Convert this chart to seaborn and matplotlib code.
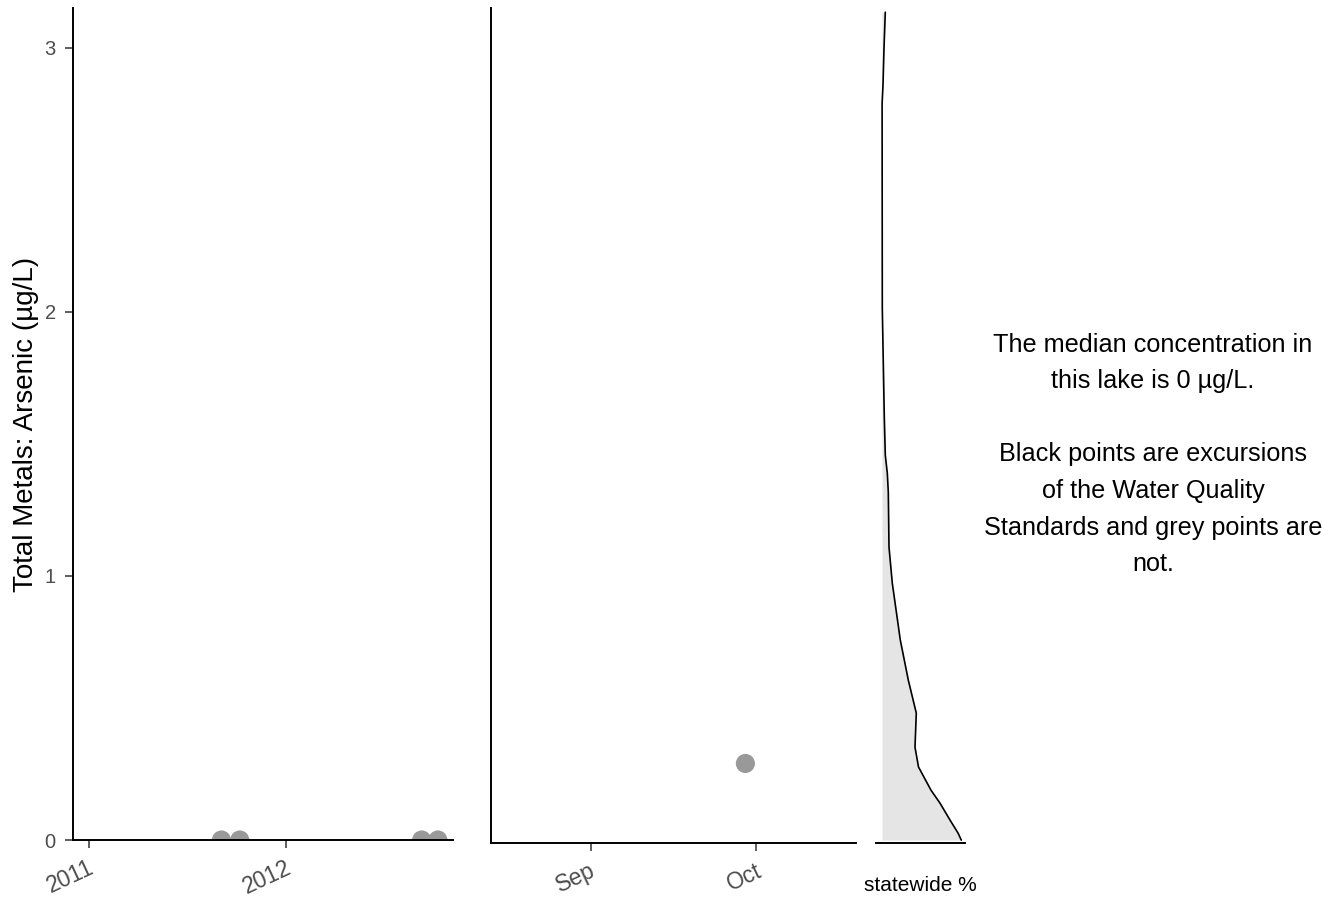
import numpy as np
import pandas as pd
import seaborn as sns
import matplotlib.pyplot as plt
import matplotlib.dates as mdates
from matplotlib.transforms import ScaledTranslation

# sample dates and arsenic values (ug/L)
sample_dates = ["2011-09-03", "2011-10-07", "2012-09-08", "2012-10-08"]
sample_vals = [0, 0, 0, 0]

# seasonal panel
season_dates = ["2012-09-29"]
season_vals = [0.30]

# statewide distribution (concentration vs relative share)
state_conc = [3.136, 3.0, 2.86, 2.79, 2.015, 1.807, 1.602, 1.458, 1.39, 1.318,
              1.11, 0.973, 0.758, 0.606, 0.481, 0.352, 0.277, 0.189, 0.14,
              0.076, 0.027, 0.0]
state_pct = [3.3, 2.0, 1.0, 0.1, 0.3, 1.3, 2.3, 3.3, 5.3, 6.3,
             7.0, 10.3, 18.3, 26.3, 34.3, 33.0, 36.5, 49.0, 58.0,
             68.0, 76.0, 79.3]

median_val = 0
ylab = "Total Metals: Arsenic (\u00b5g/L)"
note = ("The median concentration in\nthis lake is %d \u00b5g/L.\n\n"
        "Black points are excursions\nof the Water Quality\n"
        "Standards and grey points are\nnot." % median_val)

sns.set_theme(style="ticks")
plt.rcParams['font.family'] = ['Liberation Sans', 'DejaVu Sans']

df = pd.DataFrame({"date": pd.to_datetime(sample_dates), "val": sample_vals})
ds = pd.DataFrame({"date": pd.to_datetime(season_dates), "val": season_vals})
dd = pd.DataFrame({"conc": state_conc, "pct": state_pct})

fig = plt.figure(figsize=(13.34, 8.99), dpi=100)
ax1 = fig.add_axes([73/1334, 59/899, 380/1334, 832/899])
ax2 = fig.add_axes([491/1334, 56/899, 365/1334, 835/899])
ax3 = fig.add_axes([876/1334, 56/899, 89/1334, 835/899])

grey = "#999999"
tick_col = "#4D4D4D"

# left panel: full record
sns.scatterplot(data=df, x="date", y="val", ax=ax1, color=grey, s=190,
                edgecolor="none")
ax1.set_xlim(pd.Timestamp("2010-12-02"), pd.Timestamp("2012-11-05"))
ax1.set_ylim(0, 3.15)
ax1.set_yticks([0, 1, 2, 3])
ax1.xaxis.set_major_locator(mdates.YearLocator())
ax1.xaxis.set_major_formatter(mdates.DateFormatter("%Y"))
ax1.set_xlabel("")
ax1.set_ylabel(ylab, fontsize=20, color="black", va="center")
ax1.yaxis.set_label_coords(-0.124, 0.5)

# middle panel: seasonal
sns.scatterplot(data=ds, x="date", y="val", ax=ax2, color=grey, s=190,
                edgecolor="none")
ax2.set_xlim(pd.Timestamp("2012-08-14"), pd.Timestamp("2012-10-19"))
ax2.set_ylim(0, 3.15)
ax2.set_yticks([])
ax2.xaxis.set_major_locator(mdates.MonthLocator())
ax2.xaxis.set_major_formatter(mdates.DateFormatter("%b"))
ax2.set_xlabel("")
ax2.set_ylabel("")

shift = ScaledTranslation(-1/100, -3/100, fig.dpi_scale_trans)
for ax in (ax1, ax2):
    ax.tick_params(axis="y", labelsize=14.5, labelcolor=tick_col,
                   color="#333333", length=5.5, width=1.1, pad=7)
    ax.tick_params(axis="x", labelsize=16.5, labelcolor=tick_col,
                   color="#333333", length=5.5, width=1.1, pad=4)
    for lab in ax.get_xticklabels():
        lab.set_rotation(25)
        lab.set_ha("right")
        lab.set_rotation_mode("anchor")
        lab.set_transform(lab.get_transform() + shift)
    for sp in ("left", "bottom"):
        ax.spines[sp].set_linewidth(1.4)
        ax.spines[sp].set_color("black")
    ax.spines["top"].set_visible(False)
    ax.spines["right"].set_visible(False)

# right panel: statewide distribution
ax3.fill_betweenx(dd["conc"], 0, dd["pct"], color="#E5E5E5", linewidth=0)
sns.lineplot(data=dd, x="pct", y="conc", ax=ax3, color="black", linewidth=1.2,
             sort=False, estimator=None, orient="y")
ax3.set_xlim(-6, 83)
ax3.set_ylim(-0.011, 3.152)
ax3.set_xticks([])
ax3.set_yticks([])
ax3.set_ylabel("")
ax3.set_xlabel("statewide %", fontsize=15, color="black", labelpad=24)
for sp in ("left", "top", "right"):
    ax3.spines[sp].set_visible(False)
ax3.spines["bottom"].set_linewidth(1.4)
ax3.spines["bottom"].set_color("black")

fig.text(1153/1334, 1 - 454.5/899, note, ha="center", va="center",
         fontsize=18.2, linespacing=1.66, color="black")

fig.savefig("out.png", dpi=100)
